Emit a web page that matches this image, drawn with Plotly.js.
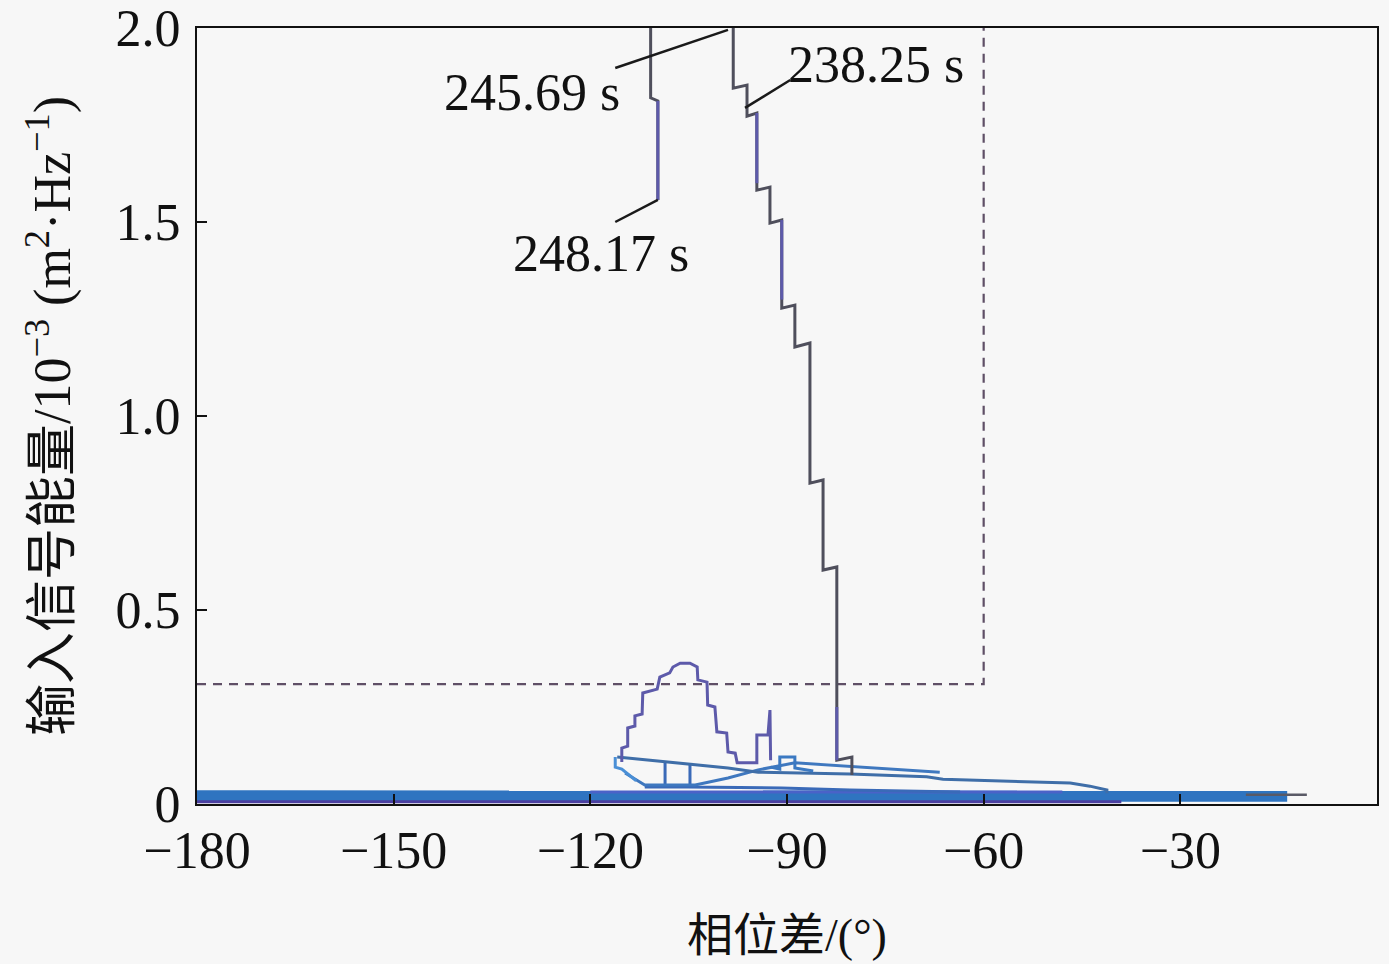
<!DOCTYPE html>
<html>
<head>
<meta charset="utf-8">
<script src="https://cdn.plot.ly/plotly-3.0.1.min.js"></script>
<style>html,body{margin:0;padding:0;background:#f7f7f7;}#chart{width:1389px;height:964px;}</style>
</head>
<body>
<div id="chart"></div>
<script>
// ---- tick labels ----
const xTickVals = [-180, -150, -120, -90, -60, -30, 0];
const xTickText = ['\u2212180', '\u2212150', '\u2212120', '\u221290', '\u221260', '\u221230', '0'];
const yTickVals = [0, 0.5, 1.0, 1.5, 2.0];
const yTickText = ['0', '0.5', '1.0', '1.5', '2.0'];

// ---- main trajectory (ends at 248.17 s) ----
const mainX = [-80.1, -80.1, -82.4, -82.4, -84.5, -84.5, -86.5, -86.5, -88.8, -88.8, -90.8, -90.8, -92.6, -92.6, -94.6, -94.6, -96.1, -96.1, -98.2, -98.2, -110.8, -110.8, -109.7, -109.7];
const mainY = [0.075, 0.121, 0.113, 0.611, 0.603, 0.835, 0.827, 1.188, 1.178, 1.286, 1.278, 1.505, 1.497, 1.590, 1.582, 1.781, 1.773, 1.853, 1.845, 2.4, 2.4, 1.820, 1.812, 1.557];
// purple-coloured parts of the main trajectory
const mainPurpleX = [-109.7, -109.7, null, -94.6, -94.6, null, -90.8, -90.8, null, -82.4, -82.4];
const mainPurpleY = [1.812, 1.557, null, 1.781, 1.600, null, 1.505, 1.300, null, 0.25, 0.113];

// ---- hump trajectory ----
const humpX = [-115.2, -115.2, -114.3, -114.3, -113.2, -113.2, -112.1, -112.0, -109.8, -109.4, -107.9, -107.4, -106.3, -104.8, -103.7, -103.6, -102.2, -102.1, -101.0, -100.7, -99.2, -99.0, -97.9, -97.6, -94.6, -94.6, -92.9, -92.6, -92.5];
const humpY = [0.108, 0.144, 0.149, 0.196, 0.201, 0.227, 0.232, 0.286, 0.296, 0.327, 0.338, 0.353, 0.363, 0.363, 0.353, 0.320, 0.314, 0.255, 0.250, 0.186, 0.183, 0.134, 0.131, 0.106, 0.106, 0.178, 0.178, 0.242, 0.113];

// ---- small bump near -90 ----
const bumpX = [-92.5, -91.1, -91.1, -88.8, -88.8, -86.0];
const bumpY = [0.095, 0.090, 0.121, 0.121, 0.093, 0.085];

// ---- low-energy trails ----
const trail1X = [-115.9, -99.0, -94.4, -80.4, -68.7, -66.2, -46.8, -43.8, -41.2, -41.2];
const trail1Y = [0.121, 0.093, 0.082, 0.077, 0.070, 0.064, 0.054, 0.046, 0.036, 0.028];
const trail2X = [-114.7, -111.7, -104.0, -99.0, -94.4, -88.8, -66.7];
const trail2Y = [0.080, 0.049, 0.049, 0.067, 0.088, 0.106, 0.082];
const trail3X = [-111.7, -108.6, -108.6, -108.6, -104.8, -104.8, -104.8, -90.8, -80.4, -63.6];
const trail3Y = [0.044, 0.044, 0.108, 0.044, 0.044, 0.103, 0.044, 0.041, 0.036, 0.031];
const trail4X = [-116.2, -116.2, -115.2, -113.0];
const trail4Y = [0.121, 0.095, 0.090, 0.060];

// ---- dense band near zero ----
const bandX = [-180, -120, -60, -20, -13.7];
const bandY = [0.021, 0.021, 0.021, 0.021, 0.020];
const bandMidX = [-120, -95, -75, -60, -48];
const bandMidY = [0.031, 0.031, 0.031, 0.031, 0.031];
const bandLowX = [-180, -120, -60, -39];
const bandLowY = [0.006, 0.006, 0.006, 0.006];
const tailX = [-20, -10.7];
const tailY = [0.024, 0.024];

// ---- threshold ----
const threshX = [-180, -60, -60];
const threshY = [0.309, 0.309, 2.0];

// ---- labels ----
const labelText = ['245.69 s', '238.25 s', '248.17 s'];
const labelX = [-128.9, -76.4, -118.4];
const labelY = [1.835, 1.905, 1.42];
const leaderFromX = [-116.2, -89.5, -116.2];
const leaderFromY = [1.897, 1.866, 1.50];
const leaderToX = [-99.0, -96.4, -109.7];
const leaderToY = [1.995, 1.794, 1.557];

function ln(x, y, color, width, extra) {
  return Object.assign({x: x, y: y, type: 'scatter', mode: 'lines', hoverinfo: 'skip',
    line: {color: color, width: width}}, extra || {});
}

const traces = [
  ln(bandX, bandY, '#2f74c0', 11),
  ln(bandMidX, bandMidY, '#4a62c8', 3),
  ln(bandLowX, bandLowY, '#4b3fa0', 3),
  ln(tailX, tailY, '#5a5a66', 2.5),
  ln(trail3X, trail3Y, '#3a6ab8', 3),
  ln(trail2X, trail2Y, '#3f78bf', 3),
  ln(trail1X, trail1Y, '#3f6ea8', 3),
  ln(trail4X, trail4Y, '#4a8fd6', 3),
  ln(bumpX, bumpY, '#3b79c2', 3),
  ln(threshX, threshY, '#5f4f66', 2.2, {line: {color: '#5f4f66', width: 2.2, dash: '9px,7px'}}),
  ln(humpX, humpY, '#5d5aaa', 3),
  ln(mainX, mainY, '#4f4f5c', 3),
  ln(mainPurpleX, mainPurpleY, '#5d5aaa', 3, {connectgaps: false})
];

const shapes = leaderFromX.map((v, i) => ({
  type: 'line', xref: 'x', yref: 'y',
  x0: v, y0: leaderFromY[i], x1: leaderToX[i], y1: leaderToY[i],
  line: {color: '#1a1a1a', width: 2.5}
}));

const annotations = labelText.map((t, i) => ({
  x: labelX[i], y: labelY[i], xref: 'x', yref: 'y', text: t, showarrow: false,
  font: {family: 'Liberation Serif, serif', size: 52, color: '#111'}
}));

const serif = 'Liberation Serif, Noto Sans CJK SC, serif';

const layout = {
  width: 1389, height: 964,
  margin: {l: 197, r: 12, t: 28, b: 160},
  paper_bgcolor: '#f7f7f7', plot_bgcolor: '#f7f7f7',
  showlegend: false,
  font: {family: serif, color: '#111'},
  xaxis: {
    range: [-180, 0], tickvals: xTickVals, ticktext: xTickText,
    ticks: 'inside', ticklen: 10, tickwidth: 2, tickcolor: '#111',
    showline: true, linewidth: 2, linecolor: '#111', mirror: true,
    showgrid: false, zeroline: false,
    tickfont: {family: serif, size: 52, color: '#111'},
    title: {text: '相位差/(°)', font: {family: serif, size: 46, color: '#111'}, standoff: 40}
  },
  yaxis: {
    range: [0, 2], tickvals: yTickVals, ticktext: yTickText,
    ticks: 'inside', ticklen: 10, tickwidth: 2, tickcolor: '#111',
    showline: true, linewidth: 2, linecolor: '#111', mirror: true,
    showgrid: false, zeroline: false, ticklabelstandoff: 4,
    tickfont: {family: serif, size: 52, color: '#111'},
    title: {text: '输入信号能量/10<sup>\u22123</sup> (m<sup>2</sup>·Hz<sup>\u22121</sup>)', font: {family: serif, size: 52, color: '#111'}, standoff: 28}
  },
  shapes: shapes,
  annotations: annotations
};

Plotly.newPlot('chart', traces, layout, {displayModeBar: false, staticPlot: true});
</script>
</body>
</html>
